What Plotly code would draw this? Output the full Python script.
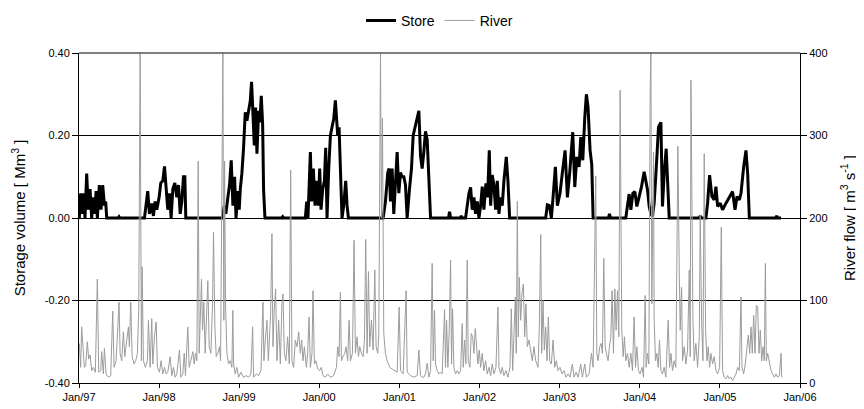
import pandas as pd
import plotly.graph_objects as go

# decimal years, with the values at those points
store_years = [
    1997.004, 1997.021, 1997.038, 1997.054, 1997.075, 1997.096, 1997.117, 1997.138, 1997.158, 1997.179,
    1997.2, 1997.213, 1997.229, 1997.254, 1997.275, 1997.296, 1997.317, 1997.333, 1997.346,
    1997.49, 1997.5, 1997.51,
    1997.817, 1997.838, 1997.858, 1997.879, 1997.908, 1997.929, 1997.95, 1997.971, 1998.0, 1998.021,
    1998.046, 1998.067, 1998.088, 1998.108, 1998.129, 1998.15, 1998.171, 1998.196, 1998.221, 1998.242,
    1998.263, 1998.283, 1998.304, 1998.321, 1998.333,
    1998.792, 1998.813, 1998.833, 1998.858, 1998.879, 1998.9, 1998.921, 1998.942, 1998.96, 1998.983,
    1999.0, 1999.013, 1999.033, 1999.054, 1999.075, 1999.096, 1999.117, 1999.138, 1999.154, 1999.171,
    1999.188, 1999.204, 1999.221, 1999.242, 1999.258, 1999.275, 1999.292, 1999.304, 1999.321,
    1999.53, 1999.542, 1999.555,
    1999.825, 1999.842, 1999.858, 1999.888, 1999.904, 1999.925, 1999.946, 1999.967, 1999.988, 2000.004,
    2000.021, 2000.042, 2000.063, 2000.079, 2000.096, 2000.117, 2000.138, 2000.158, 2000.179, 2000.2,
    2000.213, 2000.229, 2000.246, 2000.263, 2000.283, 2000.304, 2000.329, 2000.346, 2000.363,
    2000.796, 2000.825, 2000.854, 2000.871, 2000.888, 2000.908, 2000.929, 2000.954, 2000.971, 2000.992,
    2001.013, 2001.033, 2001.054, 2001.075, 2001.096, 2001.125, 2001.15, 2001.171, 2001.192, 2001.213,
    2001.242, 2001.263, 2001.283, 2001.304, 2001.325, 2001.346, 2001.367, 2001.388,
    2001.612, 2001.625, 2001.638, 2001.76, 2001.771, 2001.782,
    2001.825, 2001.846, 2001.867, 2001.888, 2001.908, 2001.929, 2001.95, 2001.971, 2001.992, 2002.013,
    2002.033, 2002.054, 2002.079, 2002.1, 2002.121, 2002.138, 2002.158, 2002.179, 2002.2, 2002.221,
    2002.242, 2002.263, 2002.283, 2002.304, 2002.333, 2002.354, 2002.375,
    2002.825, 2002.846, 2002.871, 2002.896, 2002.917, 2002.946, 2002.971, 2003.004, 2003.033, 2003.067,
    2003.096, 2003.125, 2003.163, 2003.188, 2003.213, 2003.242, 2003.263, 2003.288, 2003.313, 2003.333,
    2003.354, 2003.379, 2003.4, 2003.417,
    2003.608, 2003.621, 2003.634,
    2003.825, 2003.846, 2003.867, 2003.888, 2003.913, 2003.938, 2003.963, 2003.992, 2004.021, 2004.054,
    2004.075, 2004.096, 2004.117, 2004.138, 2004.158, 2004.179, 2004.213, 2004.233, 2004.263, 2004.283,
    2004.304, 2004.329, 2004.346, 2004.367,
    2004.742, 2004.754, 2004.766,
    2004.825, 2004.846, 2004.871, 2004.9, 2004.929, 2004.95, 2004.971, 2005.004, 2005.033, 2005.075,
    2005.117, 2005.158, 2005.188, 2005.213, 2005.242, 2005.263, 2005.296, 2005.325, 2005.346, 2005.367,
    2005.696, 2005.708, 2005.72, 2005.763,
]
store_volume = [
    0.0, 0.06, 0.01, 0.06, 0.0, 0.108, 0.02, 0.07, 0.0, 0.05,
    0.01, 0.065, 0.0, 0.08, 0.02, 0.08, 0.03, 0.04, 0.0,
    0.0, 0.003, 0.0,
    0.0, 0.03, 0.065, 0.01, 0.035, 0.005, 0.04, 0.02, 0.05, 0.085,
    0.09, 0.125, 0.06, 0.02, 0.06, 0.0, 0.07, 0.085, 0.05, 0.08,
    0.01, 0.04, 0.1, 0.1, 0.0,
    0.0, 0.03, 0.01, 0.05, 0.08, 0.14, 0.03, 0.1, 0.0, 0.065,
    0.02, 0.07, 0.108, 0.17, 0.256, 0.236, 0.26, 0.284, 0.33, 0.236,
    0.176, 0.268, 0.156, 0.26, 0.232, 0.296, 0.228, 0.068, 0.0,
    0.0, 0.003, 0.0,
    0.0, 0.04, 0.0, 0.16, 0.04, 0.12, 0.03, 0.09, 0.03, 0.12,
    0.02, 0.07, 0.09, 0.17, 0.0, 0.12, 0.2, 0.22, 0.24, 0.285,
    0.25, 0.2, 0.22, 0.12, 0.0, 0.03, 0.09, 0.03, 0.0,
    0.0, 0.04, 0.11, 0.12, 0.04, 0.12, 0.01, 0.1, 0.16, 0.06,
    0.11, 0.1, 0.1, 0.08, 0.0, 0.07, 0.12, 0.2, 0.22, 0.24,
    0.26, 0.15, 0.12, 0.16, 0.21, 0.19, 0.1, 0.0,
    0.0, 0.015, 0.0, 0.0, 0.005, 0.0,
    0.0, 0.03, 0.06, 0.074, 0.02, 0.05, 0.01, 0.04, 0.0, 0.03,
    0.076, 0.02, 0.084, 0.05, 0.164, 0.03, 0.104, 0.08, 0.02, 0.09,
    0.01, 0.05, 0.03, 0.09, 0.148, 0.09, 0.0,
    0.0, 0.032, 0.03, 0.0, 0.05, 0.124, 0.03, 0.06, 0.11, 0.164,
    0.05, 0.11, 0.208, 0.075, 0.148, 0.124, 0.196, 0.14, 0.244, 0.3,
    0.268, 0.164, 0.13, 0.0,
    0.0, 0.01, 0.0,
    0.0, 0.03, 0.058, 0.02, 0.06, 0.064, 0.028, 0.052, 0.076, 0.112,
    0.092, 0.068, 0.028, 0.01, 0.004, 0.036, 0.148, 0.22, 0.232, 0.028,
    0.108, 0.168, 0.092, 0.0,
    0.0, 0.005, 0.0,
    0.0, 0.036, 0.104, 0.052, 0.044, 0.076, 0.028, 0.036, 0.02, 0.036,
    0.052, 0.064, 0.02, 0.052, 0.044, 0.06, 0.124, 0.164, 0.108, 0.0,
    0.0, 0.005, 0.0, 0.0,
]

river_years = [
    1997.004, 1997.021, 1997.033, 1997.046, 1997.067, 1997.083, 1997.104, 1997.121, 1997.138, 1997.158,
    1997.179, 1997.204, 1997.229, 1997.246, 1997.271, 1997.283, 1997.304, 1997.317, 1997.338, 1997.367,
    1997.396, 1997.421, 1997.438, 1997.463, 1997.479, 1997.5, 1997.513, 1997.533, 1997.554, 1997.571,
    1997.596, 1997.617, 1997.629, 1997.646, 1997.663, 1997.688, 1997.708, 1997.729, 1997.746, 1997.763,
    1997.779, 1997.788, 1997.804, 1997.829, 1997.854, 1997.867, 1997.888, 1997.908, 1997.921, 1997.942,
    1997.963, 1997.979, 1998.004, 1998.025, 1998.046, 1998.067, 1998.088, 1998.108, 1998.138, 1998.158,
    1998.179, 1998.2, 1998.221, 1998.254, 1998.271, 1998.296, 1998.313, 1998.329, 1998.358, 1998.375,
    1998.396, 1998.421, 1998.438, 1998.454, 1998.471, 1998.488, 1998.5, 1998.517, 1998.529, 1998.542,
    1998.558, 1998.575, 1998.592, 1998.608, 1998.625, 1998.646, 1998.667, 1998.679, 1998.696, 1998.713,
    1998.733, 1998.754, 1998.767, 1998.783, 1998.796, 1998.808, 1998.817, 1998.829, 1998.846, 1998.867,
    1998.888, 1998.908, 1998.92, 1998.929, 1998.95, 1998.971, 1998.992, 1999.021, 1999.054, 1999.088,
    1999.117, 1999.146, 1999.167, 1999.179, 1999.213, 1999.242, 1999.271, 1999.296, 1999.308, 1999.325,
    1999.346, 1999.363, 1999.379, 1999.392, 1999.408, 1999.421, 1999.438, 1999.454, 1999.471, 1999.492,
    1999.513, 1999.533, 1999.546, 1999.563, 1999.583, 1999.604, 1999.625, 1999.642, 1999.658, 1999.679,
    1999.7, 1999.721, 1999.742, 1999.763, 1999.779, 1999.796, 1999.813, 1999.838, 1999.854, 1999.871,
    1999.888, 1999.908, 1999.921, 1999.938, 1999.958, 1999.979, 2000.004, 2000.025, 2000.046, 2000.075,
    2000.104, 2000.138, 2000.179, 2000.213, 2000.229, 2000.246, 2000.263, 2000.275, 2000.296, 2000.317,
    2000.333, 2000.354, 2000.371, 2000.388, 2000.413, 2000.433, 2000.45, 2000.471, 2000.488, 2000.504,
    2000.525, 2000.546, 2000.563, 2000.579, 2000.596, 2000.613, 2000.629, 2000.65, 2000.671, 2000.692,
    2000.708, 2000.729, 2000.742, 2000.763, 2000.775, 2000.788, 2000.804, 2000.825, 2000.846, 2000.879,
    2000.908, 2000.938, 2000.971, 2000.996, 2001.013, 2001.046, 2001.083, 2001.096, 2001.138, 2001.179,
    2001.221, 2001.242, 2001.263, 2001.283, 2001.304, 2001.325, 2001.346, 2001.367, 2001.388, 2001.408,
    2001.421, 2001.438, 2001.45, 2001.471, 2001.492, 2001.513, 2001.533, 2001.563, 2001.575, 2001.588,
    2001.604, 2001.621, 2001.638, 2001.65, 2001.663, 2001.679, 2001.7, 2001.721, 2001.742, 2001.763,
    2001.783, 2001.796, 2001.813, 2001.829, 2001.846, 2001.858, 2001.879, 2001.896, 2001.913, 2001.929,
    2001.946, 2001.963, 2001.979, 2001.996, 2002.013, 2002.033, 2002.054, 2002.075, 2002.096, 2002.117,
    2002.138, 2002.158, 2002.179, 2002.204, 2002.229, 2002.242, 2002.263, 2002.283, 2002.304, 2002.329,
    2002.354, 2002.379, 2002.396, 2002.413, 2002.429, 2002.446, 2002.458, 2002.471, 2002.483, 2002.496,
    2002.513, 2002.529, 2002.546, 2002.563, 2002.579, 2002.596, 2002.617, 2002.638, 2002.658, 2002.679,
    2002.7, 2002.729, 2002.746, 2002.763, 2002.775, 2002.792, 2002.808, 2002.825, 2002.842, 2002.858,
    2002.875, 2002.896, 2002.917, 2002.938, 2002.958, 2002.979, 2003.004, 2003.029, 2003.054, 2003.079,
    2003.104, 2003.129, 2003.158, 2003.179, 2003.204, 2003.229, 2003.263, 2003.283, 2003.313, 2003.333,
    2003.367, 2003.396, 2003.417, 2003.45, 2003.463, 2003.479, 2003.5, 2003.517, 2003.533, 2003.55,
    2003.567, 2003.583, 2003.604, 2003.621, 2003.638, 2003.654, 2003.671, 2003.688, 2003.704, 2003.721,
    2003.738, 2003.754, 2003.775, 2003.792, 2003.808, 2003.825, 2003.846, 2003.867, 2003.888, 2003.908,
    2003.929, 2003.946, 2003.963, 2003.983, 2004.004, 2004.029, 2004.046, 2004.067, 2004.079, 2004.096,
    2004.113, 2004.129, 2004.138, 2004.15, 2004.171, 2004.179, 2004.196, 2004.213, 2004.229, 2004.246,
    2004.263, 2004.283, 2004.304, 2004.325, 2004.354, 2004.371, 2004.388, 2004.408, 2004.429, 2004.45,
    2004.475, 2004.492, 2004.504, 2004.521, 2004.533, 2004.554, 2004.575, 2004.596, 2004.617, 2004.629,
    2004.638, 2004.663, 2004.679, 2004.7, 2004.721, 2004.742, 2004.754, 2004.771, 2004.788, 2004.804,
    2004.821, 2004.838, 2004.854, 2004.871, 2004.888, 2004.908, 2004.929, 2004.95, 2004.971, 2004.996,
    2005.017, 2005.033, 2005.054, 2005.075, 2005.096, 2005.117, 2005.138, 2005.158, 2005.179, 2005.2,
    2005.221, 2005.242, 2005.263, 2005.275, 2005.296, 2005.317, 2005.338, 2005.354, 2005.371, 2005.388,
    2005.404, 2005.421, 2005.438, 2005.454, 2005.471, 2005.488, 2005.504, 2005.521, 2005.538, 2005.554,
    2005.567, 2005.579, 2005.596, 2005.617, 2005.638, 2005.658, 2005.679, 2005.7, 2005.721, 2005.742,
    2005.763, 2005.771,
]
river_flow = [
    48, 19, 68, 52, 19, 21, 50, 29, 34, 15,
    19, 13, 126, 13, 15, 38, 11, 42, 11, 7,
    9, 87, 19, 27, 68, 98, 36, 27, 62, 32,
    52, 68, 44, 98, 32, 23, 27, 36, 92, 400,
    27, 141, 27, 19, 27, 76, 19, 78, 23, 56,
    74, 19, 13, 27, 11, 19, 11, 13, 32, 9,
    19, 7, 11, 40, 7, 11, 36, 9, 68, 19,
    27, 38, 23, 36, 27, 269, 36, 96, 126, 64,
    98, 36, 76, 124, 44, 36, 96, 183, 68, 32,
    36, 44, 27, 212, 400, 76, 269, 96, 36, 23,
    27, 19, 88, 23, 11, 19, 7, 13, 7, 9,
    7, 11, 68, 7, 11, 9, 15, 98, 27, 52,
    76, 27, 68, 84, 181, 44, 92, 114, 27, 76,
    23, 96, 108, 36, 27, 56, 23, 258, 27, 19,
    52, 44, 62, 36, 52, 27, 44, 19, 36, 80,
    19, 36, 112, 23, 27, 17, 15, 19, 9, 7,
    11, 7, 9, 19, 44, 32, 110, 27, 32, 36,
    44, 27, 76, 27, 36, 173, 36, 56, 32, 44,
    36, 32, 52, 174, 36, 135, 44, 76, 40, 137,
    44, 36, 60, 400, 200, 321, 60, 36, 27, 19,
    17, 15, 13, 92, 15, 11, 112, 13, 9, 7,
    9, 40, 9, 7, 7, 11, 24, 7, 15, 145,
    27, 88, 23, 15, 11, 13, 11, 89, 19, 76,
    19, 64, 149, 23, 90, 19, 11, 15, 11, 15,
    72, 19, 52, 23, 149, 27, 19, 60, 56, 36,
    66, 44, 23, 40, 19, 36, 15, 27, 11, 19,
    9, 23, 11, 19, 92, 19, 11, 19, 9, 15,
    7, 19, 90, 15, 52, 104, 36, 220, 56, 128,
    76, 108, 120, 56, 96, 44, 52, 36, 27, 44,
    27, 19, 68, 180, 36, 100, 40, 68, 27, 80,
    27, 23, 52, 19, 27, 15, 19, 11, 15, 7,
    11, 7, 23, 7, 13, 7, 23, 7, 23, 7,
    11, 36, 19, 251, 36, 27, 44, 48, 36, 151,
    44, 36, 27, 44, 56, 112, 36, 114, 64, 112,
    56, 355, 64, 32, 56, 27, 36, 19, 36, 15,
    80, 19, 44, 15, 11, 19, 7, 106, 19, 36,
    23, 355, 400, 96, 280, 76, 27, 36, 19, 52,
    15, 11, 19, 7, 76, 19, 36, 15, 27, 19,
    287, 137, 64, 116, 27, 44, 23, 40, 137, 32,
    367, 76, 27, 48, 19, 56, 204, 76, 27, 278,
    64, 27, 44, 19, 36, 23, 32, 15, 11, 19,
    189, 15, 7, 5, 9, 5, 7, 3, 7, 11,
    19, 15, 104, 19, 11, 23, 44, 58, 36, 68,
    36, 82, 36, 94, 92, 36, 64, 27, 44, 27,
    145, 27, 36, 23, 15, 11, 7, 11, 7, 9,
    36, 7,
]

left_ticks = [0.4, 0.2, 0.0, -0.2, -0.4]
left_labels = ["0.40", "0.20", "0.00", "-0.20", "-0.40"]


def to_dates(years):
    base = pd.Timestamp("1997-01-01")
    return [base + pd.Timedelta(days=(y - 1997) * 365.25) for y in years]


font_family = "Liberation Sans, Arial, sans-serif"

fig = go.Figure()

fig.add_trace(
    go.Scatter(
        x=to_dates(store_years),
        y=store_volume,
        mode="lines",
        name="Store",
        line=dict(color="black", width=3),
        yaxis="y"
    )
)

fig.add_trace(
    go.Scatter(
        x=to_dates(river_years),
        y=river_flow,
        mode="lines",
        name="River",
        line=dict(color="#9c9c9c", width=1),
        yaxis="y2"
    )
)

# the page body has an 8px margin, so the figure is a little smaller than the window
fig.update_layout(
    width=856,
    height=401,
    margin=dict(l=71, r=64, t=45, b=26, autoexpand=False),
    plot_bgcolor="white",
    paper_bgcolor="white",
    font=dict(family=font_family, size=11, color="black"),
    legend=dict(
        orientation="h", x=0.5, xanchor="center",
        yref="container", y=0.968, yanchor="middle",
        font=dict(size=14), traceorder="normal", itemwidth=30
    ),
    xaxis=dict(
        type="date",
        range=["1997-01-01", "2006-01-01"],
        tick0="1997-01-01",
        dtick="M12",
        tickformat="%b/%y",
        ticks="outside",
        ticklen=4,
        tickcolor="black",
        showline=True,
        linecolor="black",
        showgrid=False,
        zeroline=False,
        automargin=False
    ),
    yaxis=dict(
        range=[-0.4, 0.4],
        tickvals=left_ticks,
        ticktext=left_labels,
        ticks="outside",
        ticklen=6,
        tickcolor="black",
        showline=True,
        linecolor="black",
        showgrid=True,
        gridcolor="black",
        gridwidth=1,
        zeroline=False,
        automargin=False,
        title=dict(text="Storage volume [ Mm<sup>3</sup> ]", font=dict(size=15), standoff=15)
    ),
    yaxis2=dict(
        overlaying="y",
        side="right",
        range=[0, 400],
        dtick=100,
        ticks="outside",
        ticklen=6,
        tickcolor="black",
        showline=True,
        linecolor="black",
        showgrid=False,
        zeroline=False,
        automargin=False,
        title=dict(text="River flow [ m<sup>3</sup> s<sup>-1</sup> ]", font=dict(size=15), standoff=17)
    ),
    shapes=[
        dict(type="line", xref="paper", yref="paper", x0=0, x1=1, y0=1, y1=1,
             line=dict(color="#555555", width=1.5))
    ]
)

fig.write_html("out.html")
